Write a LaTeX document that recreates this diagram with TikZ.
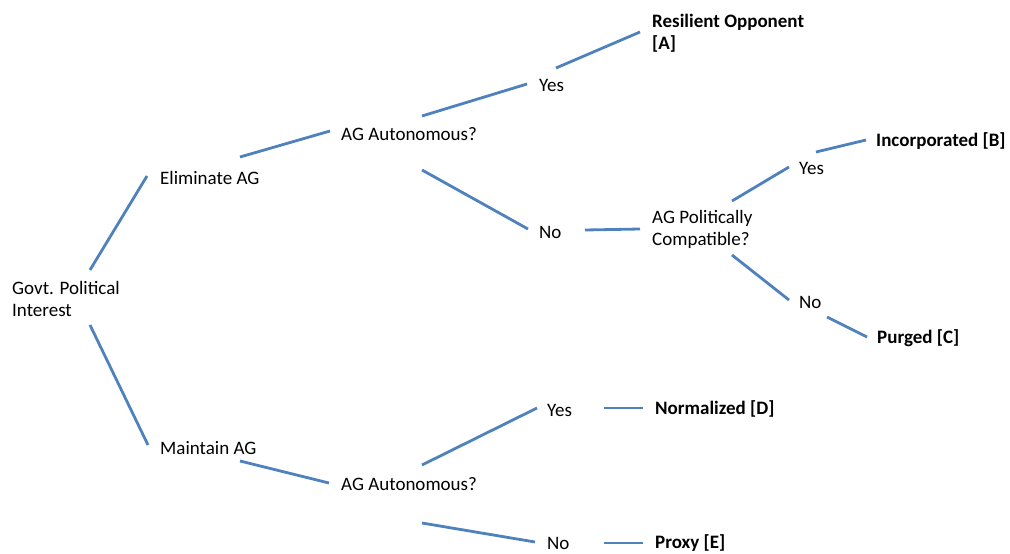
\documentclass[tikz,border=0pt]{standalone}
\usepackage{fontspec}
\setmainfont{Carlito}
\definecolor{linkblue}{RGB}{79,129,189}
\begin{document}
\begin{tikzpicture}[x=1pt,y=-1pt,
  lbl/.style={anchor=west,inner sep=0pt,font=\fontsize{19}{22}\selectfont,text=black,align=left},
  res/.style={lbl,font=\fontsize{19}{22}\selectfont\bfseries},
  conn/.style={draw=linkblue,line width=2.8pt}]
\useasboundingbox (0,0) rectangle (1010,554);
% text nodes
\node[lbl] (govt) at (12,299) {Govt. Political\\Interest};
\node[lbl] (elim) at (160,178) {Eliminate AG};
\node[lbl] (aut1) at (341,134) {AG Autonomous?};
\node[lbl] (yes1) at (539,85) {Yes};
\node[res] (resA) at (652,33) {Resilient Opponent\\{[A]}};
\node[lbl] (no1) at (539,232) {No};
\node[lbl] (pol) at (652,229) {AG Politically\\Compatible?};
\node[lbl] (yes2) at (799,168) {Yes};
\node[res] (incB) at (876,141) {Incorporated [B]};
\node[lbl] (no2) at (799,302) {No};
\node[res] (purC) at (877,338) {Purged [C]};
\node[lbl] (main) at (160,448) {Maintain AG};
\node[lbl] (aut2) at (341,484) {AG Autonomous?};
\node[lbl] (yes3) at (547,410) {Yes};
\node[res] (norD) at (655,409) {Normalized [D]};
\node[lbl] (no3) at (547,543) {No};
\node[res] (proE) at (655,543) {Proxy [E]};
% connector end points
\coordinate (g1) at (90,270);   \coordinate (e0) at (147,176);
\coordinate (g2) at (90,325);   \coordinate (m0) at (148,445);
\coordinate (e1) at (240,157);  \coordinate (a1in) at (330,131);
\coordinate (a1y) at (422,116); \coordinate (y1in) at (527,84);
\coordinate (y1o) at (556,68);  \coordinate (rAin) at (640,32);
\coordinate (a1n) at (422,170); \coordinate (n1in) at (528,229);
\coordinate (n1o) at (585,230); \coordinate (pin) at (640,229);
\coordinate (py) at (732,201);  \coordinate (y2in) at (789,167);
\coordinate (y2o) at (816,152); \coordinate (bin) at (866,140);
\coordinate (pn) at (732,255);  \coordinate (n2in) at (789,300);
\coordinate (n2o) at (827,317); \coordinate (cin) at (867,337);
\coordinate (m1) at (240,461);  \coordinate (a2in) at (329,483);
\coordinate (a2y) at (422,465); \coordinate (y3in) at (537,408);
\coordinate (y3o) at (604,408); \coordinate (din) at (643,408);
\coordinate (a2n) at (422,523); \coordinate (n3in) at (535,542);
\coordinate (n3o) at (604,543); \coordinate (ein) at (643,543);
% connectors
\foreach \a/\b in {g1/e0,g2/m0,e1/a1in,a1y/y1in,y1o/rAin,a1n/n1in,n1o/pin,py/y2in,y2o/bin,pn/n2in,n2o/cin,m1/a2in,a2y/y3in,y3o/din,a2n/n3in,n3o/ein}
  \draw[conn] (\a) -- (\b);
\end{tikzpicture}
\end{document}
